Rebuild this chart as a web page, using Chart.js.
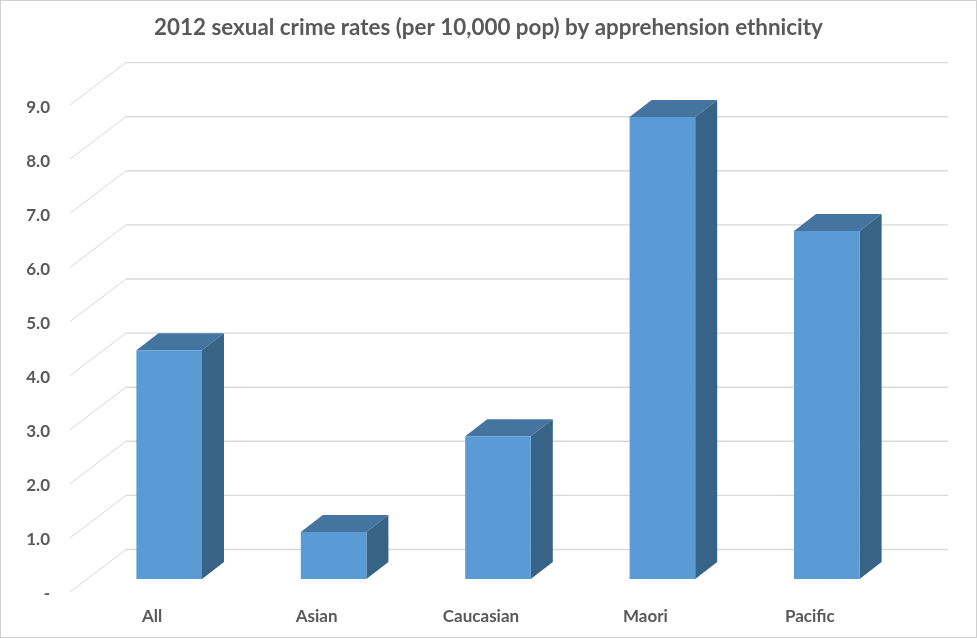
<!DOCTYPE html>
<html>
<head>
<meta charset="utf-8">
<title>2012 sexual crime rates</title>
<script src="https://cdn.jsdelivr.net/npm/chart.js@4"></script>
<style>
    html, body { margin: 0; padding: 0; background: #fff; }
    canvas { display: block; }
</style>
</head>
<body>
<canvas id="crimeChart" width="977" height="638"></canvas>
<script>
// Values
const aEthnicity = ['All', 'Asian', 'Caucasian', 'Maori', 'Pacific'];
const aRates = [4.23, 0.87, 2.64, 8.54, 6.43];
const chartTitle = '2012 sexual crime rates (per 10,000 pop) by apprehension ethnicity';

const fontName = 'Lato, "Open Sans", sans-serif';
const textColor = '#595959';
const gridColor = '#d9d9d9';
const barFront = '#5b9bd5';
const barTop = '#44749f';
const barSide = '#376387';

// Fake 3D: the y scale is the front edge of the floor, the wall sits behind it
const wallDx = 56, wallDy = -42.5;
const barDx = 17, barDy = -13;
const depthDx = 22, depthDy = -17;
const tickLabelDrop = 2;

const wall3d = {
    id: 'wall3d',
    beforeDraw(chart) {
        const c = chart.ctx;
        c.save();
        c.fillStyle = '#fff';
        c.fillRect(0, 0, chart.width, chart.height);
        c.strokeStyle = '#d0d0d0';
        c.lineWidth = 1;
        c.strokeRect(0.5, 0.5, chart.width - 1, chart.height - 1);
        c.restore();
    },
    beforeDatasetsDraw(chart) {
        const c = chart.ctx;
        const yScale = chart.scales.y;
        const left = chart.chartArea.left, right = chart.chartArea.right;
        c.save();
        c.strokeStyle = gridColor;
        yScale.ticks.forEach(tick => {
            const y = yScale.getPixelForValue(tick.value);
            c.beginPath();
            c.lineWidth = 1;
            c.moveTo(left, y);
            c.lineTo(left + wallDx, y + wallDy);
            c.stroke();
            c.beginPath();
            c.lineWidth = 1.4;
            c.moveTo(left + wallDx, y + wallDy);
            c.lineTo(right + wallDx, y + wallDy);
            c.stroke();
        });
        c.restore();
    },
    beforeDatasetDraw(chart) {
        const c = chart.ctx;
        c.save();
        c.translate(barDx, barDy);
        chart.getDatasetMeta(0).data.forEach(bar => {
            const p = bar.getProps(['x', 'y', 'base', 'width'], true);
            const l = p.x - p.width / 2, r = p.x + p.width / 2;
            c.fillStyle = barTop;
            c.beginPath();
            c.moveTo(l, p.y);
            c.lineTo(l + depthDx, p.y + depthDy);
            c.lineTo(r + depthDx, p.y + depthDy);
            c.lineTo(r, p.y);
            c.closePath();
            c.fill();
            c.fillStyle = barSide;
            c.beginPath();
            c.moveTo(r, p.y);
            c.lineTo(r + depthDx, p.y + depthDy);
            c.lineTo(r + depthDx, p.base + depthDy);
            c.lineTo(r, p.base);
            c.closePath();
            c.fill();
        });
    },
    afterDatasetDraw(chart) {
        chart.ctx.restore();
    }
};

// Tick text sits a little under the end of its grid line in the original
function dropLabels(scale) {
    if (scale.dropped) return;
    scale.dropped = true;
    const drawLabels = scale.drawLabels;
    scale.drawLabels = function (area) {
        this.ctx.save();
        this.ctx.translate(0, tickLabelDrop);
        drawLabels.call(this, area);
        this.ctx.restore();
    };
}

new Chart(document.getElementById('crimeChart').getContext('2d'), {
    type: 'bar',
    data: {
        labels: aEthnicity,
        datasets: [{
            data: aRates,
            backgroundColor: barFront,
            borderWidth: 0,
            categoryPercentage: 1,
            barPercentage: 0.399
        }]
    },
    plugins: [wall3d],
    options: {
        responsive: false,
        animation: false,
        scales: {
            x: {
                afterFit: scale => { scale.height = 46; },
                grid: { display: false },
                border: { display: false },
                ticks: {
                    color: textColor,
                    padding: 6,
                    maxRotation: 0,
                    font: { family: fontName, size: 17, weight: 'bold' }
                }
            },
            y: {
                min: 0,
                max: 9,
                afterFit: scale => { scale.width = 70; },
                afterUpdate: dropLabels,
                grid: { display: false },
                border: { display: false },
                ticks: {
                    stepSize: 1,
                    color: textColor,
                    padding: 12,
                    font: { family: fontName, size: 17, weight: 'bold' },
                    callback: value => value === 0 ? '-' : value.toFixed(1)
                }
            },
            // empty axis, keeps the space right of the plot so the title stays centred on the page
            rightGap: {
                position: 'right',
                afterFit: scale => { scale.width = 85; },
                grid: { display: false },
                border: { display: false },
                ticks: { display: false }
            }
        },
        plugins: {
            legend: { display: false },
            tooltip: { enabled: false },
            title: {
                display: true,
                text: chartTitle,
                color: textColor,
                padding: { top: 14, bottom: 64.2 },
                font: { family: fontName, size: 22.4, weight: 'bold', lineHeight: 1.2 }
            }
        }
    }
});
</script>
</body>
</html>
